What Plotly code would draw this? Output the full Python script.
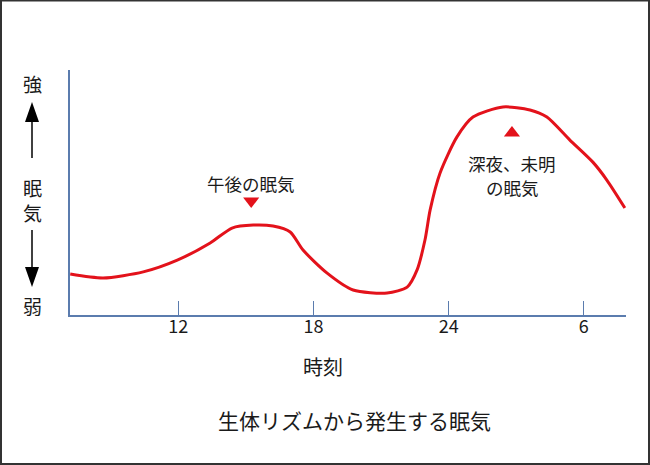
import plotly.graph_objects as go

# Data (hour of day, sleepiness level 0-10)
hours = [7.21, 8.67, 10.45, 11.96, 13.42, 14.39, 15.33, 16.21, 16.97, 17.54, 18.61,
         19.76, 21.27, 22.16, 22.60, 22.95, 23.18, 23.62, 24.37, 25.08, 26.41, 27.61,
         28.36, 29.38, 30.40, 31.02, 31.82]
sleepiness = [1.67, 1.51, 1.76, 2.24, 2.94, 3.55, 3.67, 3.63, 3.39, 2.65, 1.71,
              1.02, 0.90, 1.14, 1.84, 3.06, 4.29, 5.80, 7.27, 8.08, 8.49, 8.37,
              8.08, 7.14, 6.24, 5.51, 4.37]
tick_vals = [12, 18, 24, 30]
tick_text = ["12", "18", "24", "6"]
peak_down = (15.24, 4.65)
peak_up = (26.81, 7.43)

FONT = "Noto Sans CJK JP"
AXIS = "#5b7cae"
RED = "#e3121b"

fig = go.Figure()
fig.add_trace(go.Scatter(x=hours, y=sleepiness, mode="lines",
                         line=dict(color=RED, width=3, shape="spline", smoothing=0.7),
                         hoverinfo="skip"))
fig.add_trace(go.Scatter(x=[peak_down[0]], y=[peak_down[1]], mode="markers",
                         marker=dict(symbol="triangle-down", size=14, color=RED)))
fig.add_trace(go.Scatter(x=[peak_up[0]], y=[peak_up[1]], mode="markers",
                         marker=dict(symbol="triangle-up", size=14, color=RED)))

L, R, T, B = 70, 24, 70, 150
W, H = 650, 465
pw, ph = W - L - R, H - T - B

def px(x):
    return (x - L) / pw

def py(y):
    return (H - B - y) / ph

ann = []
def text(x, y, s, size, xref="paper", yref="paper"):
    ann.append(dict(x=x, y=y, xref=xref, yref=yref, text=s, showarrow=False,
                    font=dict(family=FONT, size=size, color="#1a1a1a"),
                    xanchor="center", yanchor="middle"))

text(px(251), py(183), "午後の眠気", 17.5)
text(px(512), py(163), "深夜、未明", 17.5)
text(px(512), py(187), "の眠気", 17.5)
text(px(32), py(83), "強", 19)
text(px(32), py(187), "眠", 19)
text(px(32), py(212), "気", 19)
text(px(32), py(305), "弱", 19)
text(px(323), py(367), "時刻", 20)
text(px(354), py(420), "生体リズムから発生する眠気", 21)

shapes = [
    dict(type="rect", xref="paper", yref="paper", x0=px(1), x1=px(649), y0=py(464), y1=py(0.5),
         line=dict(color="#333333", width=2), layer="below"),
    dict(type="line", xref="paper", yref="paper", x0=px(32), x1=px(32), y0=py(120), y1=py(158),
         line=dict(color="black", width=1.5)),
    dict(type="path", xref="paper", yref="paper",
         path=f"M {px(32)},{py(102)} L {px(25)},{py(122)} L {px(39)},{py(122)} Z",
         fillcolor="black", line=dict(width=0)),
    dict(type="line", xref="paper", yref="paper", x0=px(32), x1=px(32), y0=py(230), y1=py(269),
         line=dict(color="black", width=1.5)),
    dict(type="path", xref="paper", yref="paper",
         path=f"M {px(32)},{py(287)} L {px(25)},{py(267)} L {px(39)},{py(267)} Z",
         fillcolor="black", line=dict(width=0)),
]

fig.update_layout(
    width=W, height=H, margin=dict(l=L, r=R, t=T, b=B),
    paper_bgcolor="white", plot_bgcolor="white", showlegend=False,
    annotations=ann, shapes=shapes,
    xaxis=dict(range=[7.2, 31.87], tickvals=tick_vals, ticktext=tick_text,
               ticks="inside", ticklen=14, tickcolor=AXIS, tickwidth=1.2,
               showline=True, linecolor=AXIS, linewidth=2, showgrid=False, zeroline=False,
               tickfont=dict(family=FONT, size=18, color="#1a1a1a"), ticklabelstandoff=-6,
               fixedrange=True),
    yaxis=dict(range=[0, 10], showticklabels=False, ticks="",
               showline=True, linecolor=AXIS, linewidth=2, showgrid=False, zeroline=False,
               fixedrange=True),
)

fig.write_html("out.html", config={"displayModeBar": False},
               post_script="document.body.style.margin='0';document.body.style.overflow='hidden';")
